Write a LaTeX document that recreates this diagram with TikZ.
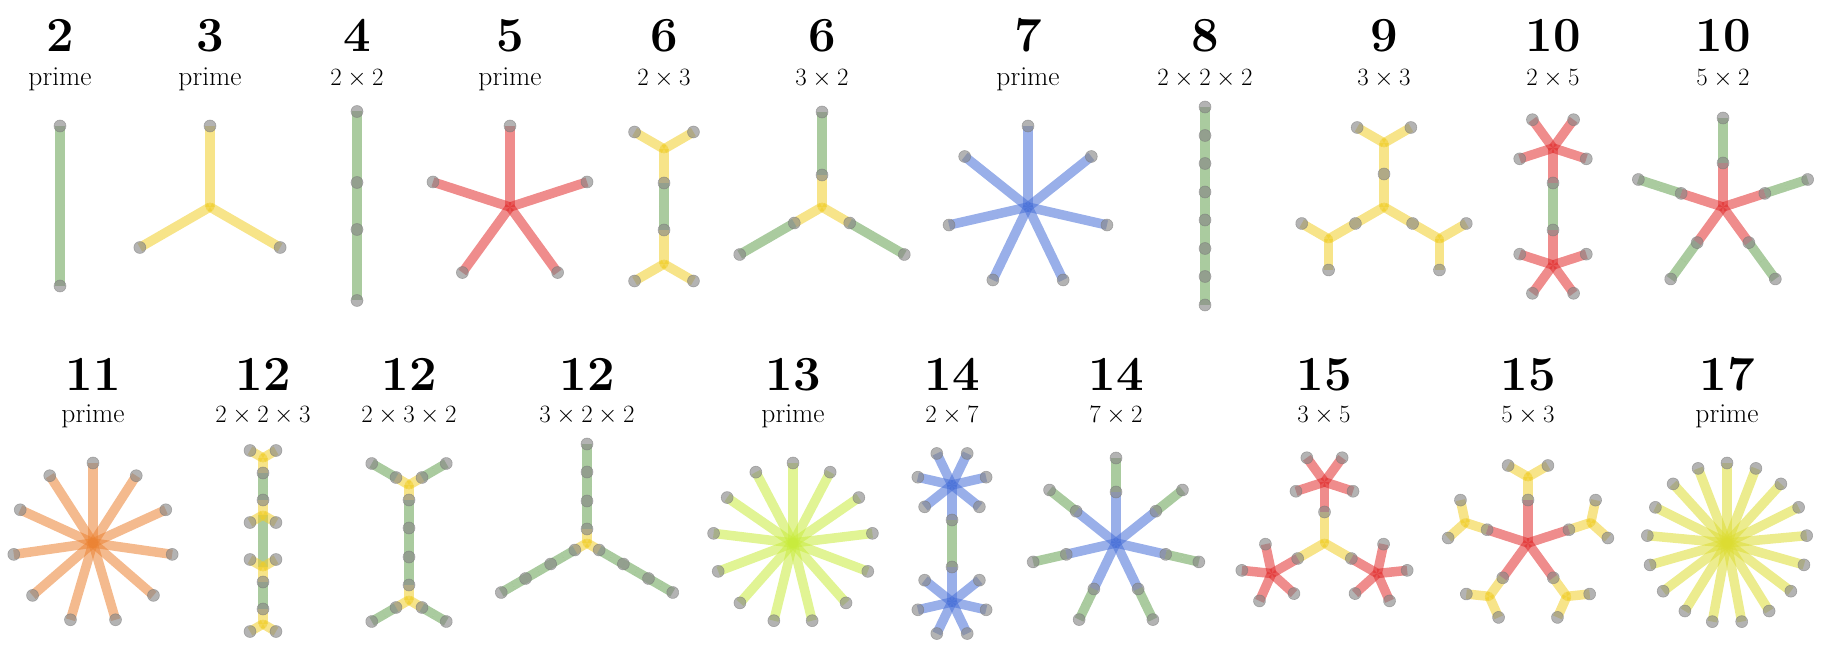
\documentclass[tikz,border=0pt]{standalone}
\usepackage{tikz}
\pgfdeclarelayer{lines}
\pgfsetlayers{lines,main}
\definecolor{cTwo}{RGB}{100,160,80}
\definecolor{cThree}{RGB}{240,205,40}
\definecolor{cFive}{RGB}{225,45,45}
\definecolor{cSeven}{RGB}{70,110,215}
\definecolor{cEleven}{RGB}{235,130,50}
\definecolor{cThirteen}{RGB}{200,235,60}
\definecolor{cSeventeen}{RGB}{220,220,50}
\tikzset{
  armline/.style={line width=9.5pt, line cap=butt, draw opacity=0.55},
  hub/.style={fill opacity=0.55},
  leafdot/.style={fill=black!48, fill opacity=0.62, draw=black!55, draw opacity=0.5, line width=0.6pt},
  numlabel/.style={anchor=base, font=\fontsize{49}{52}\selectfont\bfseries, inner sep=0pt},
  sublabel/.style={anchor=base, font=\fontsize{27.5}{30}\selectfont, inner sep=0pt},
}
\newcommand\SA[3]{%
  \begin{pgfonlayer}{lines}%
  \foreach \ka in {1,...,#1}{\draw[armline,#3] (0,0) -- ({90+360*\ka/#1}:#2);}%
  \ifnum#1=3 \fill[hub,#3] (0,0) circle (4.5);\fi
  \end{pgfonlayer}}
\newcommand\SD[2]{\foreach \kb in {1,...,#1}{\filldraw[leafdot] ({90+360*\kb/#1}:#2) circle (6);}}
\newcommand\SP[3]{\SA{#1}{#2}{#3}\SD{#1}{#2}}
\newcommand\Kids[4]{\foreach \kc in {1,...,#1}{\begin{scope}[rotate={360*\kc/#1}]\begin{scope}[shift={(0,#2+#3)},rotate=180]#4\end{scope}\end{scope}}}
\begin{document}
\begin{tikzpicture}[x=1pt,y=1pt]
\useasboundingbox (0,0) rectangle (1826,649);
% ---------- row 1 labels
\node[numlabel] (n2) at (60,597) {2};      \node[sublabel] (s2) at (60,563) {prime};
\node[numlabel] (n3) at (210,597) {3};     \node[sublabel] (s3) at (210,563) {prime};
\node[numlabel] (n4) at (357,597) {4};     \node[sublabel] (s4) at (357,563) {$2\times2$};
\node[numlabel] (n5) at (510,597) {5};     \node[sublabel] (s5) at (510,563) {prime};
\node[numlabel] (n6a) at (664,597) {6};    \node[sublabel] (s6a) at (664,563) {$2\times3$};
\node[numlabel] (n6b) at (822,597) {6};    \node[sublabel] (s6b) at (822,563) {$3\times2$};
\node[numlabel] (n7) at (1028,597) {7};    \node[sublabel] (s7) at (1028,563) {prime};
\node[numlabel] (n8) at (1205,597) {8};    \node[sublabel] (s8) at (1205,563) {$2\times2\times2$};
\node[numlabel] (n9) at (1384,597) {9};    \node[sublabel] (s9) at (1384,563) {$3\times3$};
\node[numlabel] (n10a) at (1553,597) {10}; \node[sublabel] (s10a) at (1553,563) {$2\times5$};
\node[numlabel] (n10b) at (1723,597) {10}; \node[sublabel] (s10b) at (1723,563) {$5\times2$};
% ---------- row 2 labels
\node[numlabel] (n11) at (93,259) {11};    \node[sublabel] (s11) at (93,227) {prime};
\node[numlabel] (n12a) at (263,259) {12};  \node[sublabel] (s12a) at (263,227) {$2\times2\times3$};
\node[numlabel] (n12b) at (409,259) {12};  \node[sublabel] (s12b) at (409,227) {$2\times3\times2$};
\node[numlabel] (n12c) at (587,259) {12};  \node[sublabel] (s12c) at (587,227) {$3\times2\times2$};
\node[numlabel] (n13) at (793,259) {13};   \node[sublabel] (s13) at (793,227) {prime};
\node[numlabel] (n14a) at (952,259) {14};  \node[sublabel] (s14a) at (952,227) {$2\times7$};
\node[numlabel] (n14b) at (1116,259) {14}; \node[sublabel] (s14b) at (1116,227) {$7\times2$};
\node[numlabel] (n15a) at (1324,259) {15}; \node[sublabel] (s15a) at (1324,227) {$3\times5$};
\node[numlabel] (n15b) at (1528,259) {15}; \node[sublabel] (s15b) at (1528,227) {$5\times3$};
\node[numlabel] (n17) at (1727,259) {17};  \node[sublabel] (s17) at (1727,227) {prime};
% ---------- row 1 trees
\begin{scope}[shift={(60,443)}]\SP{2}{80}{cTwo}\end{scope}
\begin{scope}[shift={(210,442)}]\SP{3}{81}{cThree}\end{scope}
\begin{scope}[shift={(357,443)}]\SA{2}{23.5}{cTwo}\Kids{2}{23.5}{35.5}{\SP{2}{35.5}{cTwo}}\end{scope}
\begin{scope}[shift={(510,442)}]\SP{5}{81}{cFive}\end{scope}
\begin{scope}[shift={(664,442.5)}]\SA{2}{23.5}{cTwo}\Kids{2}{23.5}{34}{\SP{3}{34}{cThree}}\end{scope}
\begin{scope}[shift={(822,442)}]\SA{3}{32}{cThree}\Kids{3}{32}{31.5}{\SP{2}{31.5}{cTwo}}\end{scope}
\begin{scope}[shift={(1028,442)}]\SP{7}{81}{cSeven}\end{scope}
\begin{scope}[shift={(1205,443)}]\SA{2}{14}{cTwo}\Kids{2}{14}{42.5}{\SA{2}{14}{cTwo}\Kids{2}{14}{14.25}{\SP{2}{14.25}{cTwo}}}\end{scope}
\begin{scope}[shift={(1384,442)}]\SA{3}{33}{cThree}\Kids{3}{33}{31}{\SP{3}{31}{cThree}}\end{scope}
\begin{scope}[shift={(1553,442.5)}]\SA{2}{23.5}{cTwo}\Kids{2}{23.5}{35}{\SP{5}{35}{cFive}}\end{scope}
\begin{scope}[shift={(1723,442)}]\SA{5}{44}{cFive}\Kids{5}{44}{22.5}{\SP{2}{22.5}{cTwo}}\end{scope}
% ---------- row 2 trees
\begin{scope}[shift={(93,106)}]\SP{11}{80}{cEleven}\end{scope}
\begin{scope}[shift={(263,108)}]\SA{2}{26}{cTwo}\Kids{2}{26}{28.5}{\SA{2}{13.5}{cTwo}\Kids{2}{13.5}{15}{\SP{3}{15}{cThree}}}\end{scope}
\begin{scope}[shift={(409,106.5)}]\SA{2}{14.5}{cTwo}\Kids{2}{14.5}{43}{\SA{3}{15}{cThree}\Kids{3}{15}{14}{\SP{2}{14}{cTwo}}}\end{scope}
\begin{scope}[shift={(587,106)}]\SA{3}{14}{cThree}\Kids{3}{14}{42.5}{\SA{2}{14.5}{cTwo}\Kids{2}{14.5}{14}{\SP{2}{14}{cTwo}}}\end{scope}
\begin{scope}[shift={(793,106)}]\SP{13}{80}{cThirteen}\end{scope}
\begin{scope}[shift={(952,105.5)}]\SA{2}{23.5}{cTwo}\Kids{2}{23.5}{35}{\SP{7}{35}{cSeven}}\end{scope}
\begin{scope}[shift={(1116,106)}]\SA{7}{51}{cSeven}\Kids{7}{51}{17}{\SP{2}{17}{cTwo}}\end{scope}
\begin{scope}[shift={(1324.5,106)}]\SA{3}{31}{cThree}\Kids{3}{31}{30}{\SP{5}{30}{cFive}}\end{scope}
\begin{scope}[shift={(1528,106)}]\SA{5}{43}{cFive}\Kids{5}{43}{23}{\SP{3}{23}{cThree}}\end{scope}
\begin{scope}[shift={(1727,106)}]\SP{17}{80}{cSeventeen}\end{scope}
\end{tikzpicture}
\end{document}
